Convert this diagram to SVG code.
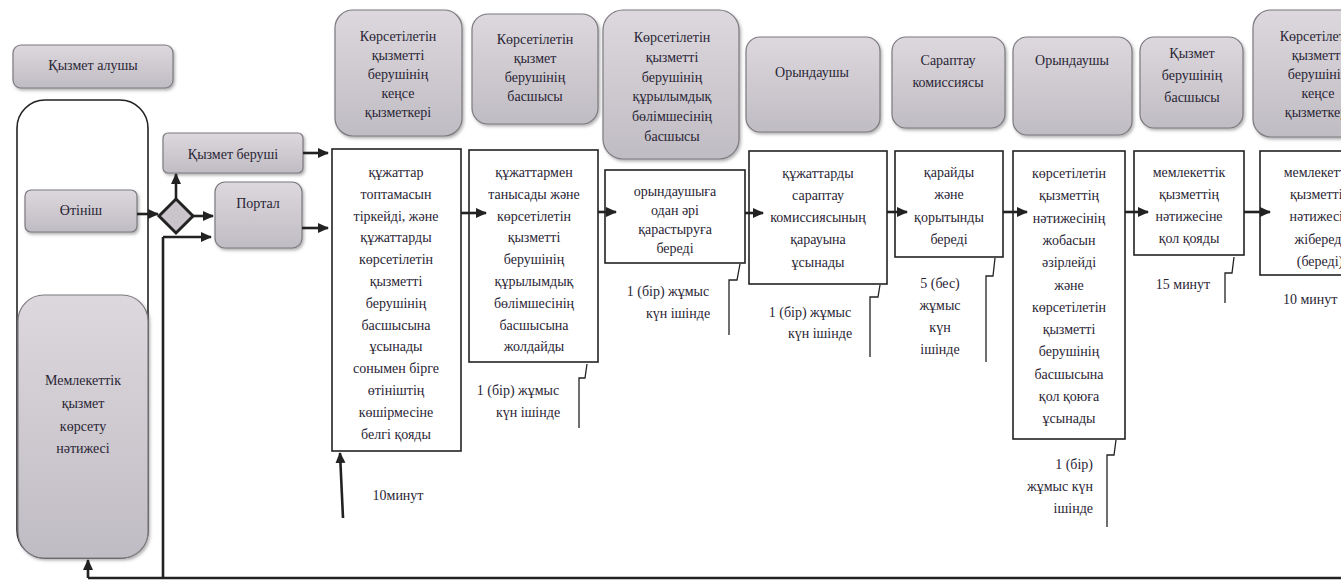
<svg xmlns="http://www.w3.org/2000/svg" width="1341" height="583" viewBox="0 0 1341 583">
<defs>
<linearGradient id="gr" x1="0" y1="0" x2="0" y2="1">
<stop offset="0" stop-color="#dcd8dd"/>
<stop offset="1" stop-color="#c0bcc3"/>
</linearGradient>
<filter id="sh" x="-10%" y="-10%" width="130%" height="130%">
<feDropShadow dx="1.5" dy="2" stdDeviation="1.5" flood-color="#555" flood-opacity="0.45"/>
</filter>
<marker id="ah" markerUnits="userSpaceOnUse" markerWidth="12" markerHeight="12" refX="10" refY="5" orient="auto">
<path d="M0,0 L11,5 L0,10 Z" fill="#222"/>
</marker>
</defs>
<style>
text{font-family:Liberation Serif,serif;font-size:14px;fill:#2a2535;text-anchor:middle}
.hdr{fill:url(#gr);stroke:#7d7a80;stroke-width:1.2;filter:url(#sh)}
.box{fill:#fff;stroke:#222;stroke-width:1.6}
.con{fill:none;stroke:#222;stroke-width:2.6}
.arr{fill:none;stroke:#222;stroke-width:2.6;marker-end:url(#ah)}
.brk{fill:none;stroke:#222;stroke-width:1.3}
.e{text-anchor:end}
.s{text-anchor:start}
</style>

<g id="left-container"><rect x="17" y="100" width="131" height="458" rx="28" fill="#fff" stroke="#222" stroke-width="1.6"/></g>

<g id="n-alushy"><rect class="hdr" x="13" y="45" width="160" height="43" rx="8"/><text x="93" y="70">Қызмет алушы</text></g>
<g id="n-otinish"><rect class="hdr" x="25" y="190" width="112" height="42" rx="6"/><text x="81" y="215">Өтініш</text></g>
<g id="n-natizhe"><rect class="hdr" x="18" y="295" width="130" height="263" rx="26"/>
<text x="83"><tspan x="83" y="385">Мемлекеттік</tspan><tspan x="83" y="408">қызмет</tspan><tspan x="83" y="431">көрсету</tspan><tspan x="83" y="453">нәтижесі</tspan></text></g>

<g id="n-beruschi"><rect class="hdr" x="163" y="133" width="140" height="40" rx="5"/><text x="233" y="159">Қызмет беруші</text></g>
<g id="n-portal"><rect class="hdr" x="215" y="182" width="87" height="66" rx="10"/><text x="258" y="208">Портал</text></g>
<g id="n-diamond"><polygon points="159,216 176,199 193,216 176,233" fill="#c9c5ca" stroke="#222" stroke-width="3"/></g>

<g id="h-kense1"><rect class="hdr" x="335" y="10" width="127" height="126" rx="18"/>
<text><tspan x="398" y="41">Көрсетілетін</tspan><tspan x="398" y="60">қызметті</tspan><tspan x="398" y="79">берушінің</tspan><tspan x="398" y="98">кеңсе</tspan><tspan x="398" y="117">қызметкері</tspan></text></g>
<g id="h-basshy1"><rect class="hdr" x="472" y="14" width="126" height="110" rx="16"/>
<text><tspan x="535" y="44">Көрсетілетін</tspan><tspan x="535" y="63">қызмет</tspan><tspan x="535" y="82">берушінің</tspan><tspan x="535" y="101">басшысы</tspan></text></g>
<g id="h-bolim"><rect class="hdr" x="603" y="10" width="136" height="149" rx="20"/>
<text><tspan x="672" y="42">Көрсетілетін</tspan><tspan x="672" y="62">қызметті</tspan><tspan x="672" y="82">берушінің</tspan><tspan x="672" y="101">құрылымдық</tspan><tspan x="672" y="121">бөлімшесінің</tspan><tspan x="672" y="141">басшысы</tspan></text></g>
<g id="h-oryn1"><rect class="hdr" x="746" y="37" width="134" height="95" rx="14"/><text x="812" y="77">Орындаушы</text></g>
<g id="h-sarap"><rect class="hdr" x="892" y="37" width="113" height="91" rx="14"/>
<text><tspan x="948" y="65">Сараптау</tspan><tspan x="948" y="87">комиссиясы</tspan></text></g>
<g id="h-oryn2"><rect class="hdr" x="1013" y="37" width="119" height="98" rx="14"/><text x="1072" y="65">Орындаушы</text></g>
<g id="h-basshy2"><rect class="hdr" x="1140" y="37" width="103" height="91" rx="14"/>
<text><tspan x="1192" y="58">Қызмет</tspan><tspan x="1192" y="80">берушінің</tspan><tspan x="1192" y="102">басшысы</tspan></text></g>
<g id="h-kense2"><rect class="hdr" x="1253" y="10" width="130" height="127" rx="18"/>
<text><tspan x="1318" y="41">Көрсетілетін</tspan><tspan x="1318" y="60">қызметті</tspan><tspan x="1318" y="79">берушінің</tspan><tspan x="1318" y="98">кеңсе</tspan><tspan x="1318" y="117">қызметкері</tspan></text></g>

<g id="p-a"><rect class="box" x="332" y="149" width="129" height="302"/>
<text><tspan x="396" y="177">құжаттар</tspan><tspan x="396" y="199">топтамасын</tspan><tspan x="396" y="221">тіркейді, және</tspan><tspan x="396" y="242">құжаттарды</tspan><tspan x="396" y="264">көрсетілетін</tspan><tspan x="396" y="286">қызметті</tspan><tspan x="396" y="308">берушінің</tspan><tspan x="396" y="330">басшысына</tspan><tspan x="396" y="351">ұсынады</tspan><tspan x="396" y="373">сонымен бірге</tspan><tspan x="396" y="395">өтініштің</tspan><tspan x="396" y="417">көшірмесіне</tspan><tspan x="396" y="439">белгі қояды</tspan></text></g>
<g id="p-b"><rect class="box" x="469" y="150" width="129" height="212"/>
<text><tspan x="534" y="177">құжаттармен</tspan><tspan x="534" y="199">танысады және</tspan><tspan x="534" y="221">көрсетілетін</tspan><tspan x="534" y="242">қызметті</tspan><tspan x="534" y="264">берушінің</tspan><tspan x="534" y="286">құрылымдық</tspan><tspan x="534" y="308">бөлімшесінің</tspan><tspan x="534" y="330">басшысына</tspan><tspan x="534" y="351">жолдайды</tspan></text></g>
<g id="p-c"><rect class="box" x="605" y="170" width="140" height="93"/>
<text><tspan x="675" y="196">орындаушыға</tspan><tspan x="675" y="215">одан әрі</tspan><tspan x="675" y="234">қарастыруға</tspan><tspan x="675" y="253">береді</tspan></text></g>
<g id="p-d"><rect class="box" x="749" y="151" width="138" height="133"/>
<text><tspan x="818" y="178">құжаттарды</tspan><tspan x="818" y="200">сараптау</tspan><tspan x="818" y="222">комиссиясының</tspan><tspan x="818" y="244">қарауына</tspan><tspan x="818" y="267">ұсынады</tspan></text></g>
<g id="p-e"><rect class="box" x="895" y="151" width="108" height="106"/>
<text><tspan x="949" y="177">қарайды</tspan><tspan x="949" y="199">және</tspan><tspan x="949" y="222">қорытынды</tspan><tspan x="949" y="244">береді</tspan></text></g>
<g id="p-f"><rect class="box" x="1013" y="151" width="112" height="288"/>
<text><tspan x="1069" y="178">көрсетілетін</tspan><tspan x="1069" y="200">қызметтің</tspan><tspan x="1069" y="223">нәтижесінің</tspan><tspan x="1069" y="245">жобасын</tspan><tspan x="1069" y="267">әзірлейді</tspan><tspan x="1069" y="290">және</tspan><tspan x="1069" y="312">көрсетілетін</tspan><tspan x="1069" y="334">қызметті</tspan><tspan x="1069" y="356">берушінің</tspan><tspan x="1069" y="379">басшысына</tspan><tspan x="1069" y="401">қол қоюға</tspan><tspan x="1069" y="423">ұсынады</tspan></text></g>
<g id="p-g"><rect class="box" x="1134" y="151" width="110" height="104"/>
<text><tspan x="1189" y="177">мемлекеттік</tspan><tspan x="1189" y="199">қызметтің</tspan><tspan x="1189" y="221">нәтижесіне</tspan><tspan x="1189" y="243">қол қояды</tspan></text></g>
<g id="p-h"><rect class="box" x="1260" y="151" width="120" height="124"/>
<text><tspan x="1320" y="177">мемлекеттік</tspan><tspan x="1320" y="199">қызметтің</tspan><tspan x="1320" y="221">нәтижесін</tspan><tspan x="1320" y="244">жібереді</tspan><tspan x="1320" y="266">(береді)</tspan></text></g>

<g id="times">
<path class="brk" d="M579,428 V378 H585 L587,364"/>
<path class="brk" d="M729,335 V280 H737 L740,264"/>
<path class="brk" d="M870,357 V297 H878 L880,285"/>
<path class="brk" d="M986,362 V276 H993 L995,258"/>
<path class="brk" d="M1107,527 V455 H1114 L1116,440"/>
<path class="brk" d="M1225,303 V273 H1232 L1234,257"/>
<text x="398" y="500">10минут</text>
<text><tspan x="518" y="395">1 (бір) жұмыс</tspan><tspan x="528" y="417">күн ішінде</tspan></text>
<text><tspan x="668" y="296">1 (бір) жұмыс</tspan><tspan x="678" y="318">күн ішінде</tspan></text>
<text><tspan x="810" y="317">1 (бір) жұмыс</tspan><tspan x="820" y="338">күн ішінде</tspan></text>
<text><tspan x="940" y="288">5 (бес)</tspan><tspan x="940" y="310">жұмыс</tspan><tspan x="940" y="332">күн</tspan><tspan x="940" y="354">ішінде</tspan></text>
<text class="e"><tspan x="1093" y="469">1 (бір)</tspan><tspan x="1093" y="491">жұмыс күн</tspan><tspan x="1093" y="513">ішінде</tspan></text>
<text x="1183" y="289">15 минут</text>
<text class="s" x="1283" y="304">10 минут</text>
</g>

<g id="connectors">
<path class="arr" d="M137,214 H158"/>
<path class="arr" d="M176,199 V174"/>
<path class="arr" d="M193,216 H213"/>
<path class="arr" d="M163,237 H211"/>
<path class="con" d="M163,237 V578"/>
<path class="con" d="M88,578 H1341" stroke-width="3"/>
<path class="arr" d="M88,578 V560"/>
<path class="arr" d="M303,153 H328"/>
<path class="arr" d="M302,228 H328"/>
<path class="arr" d="M343,518 L340,453"/>
<path class="arr" d="M461,213 H486"/>
<path class="arr" d="M598,212 H616"/>
<path class="arr" d="M745,213 H763"/>
<path class="arr" d="M887,212 H907"/>
<path class="arr" d="M1003,212 H1027"/>
<path class="arr" d="M1125,212 H1148"/>
<path class="arr" d="M1244,212 H1270"/>
</g>
</svg>
